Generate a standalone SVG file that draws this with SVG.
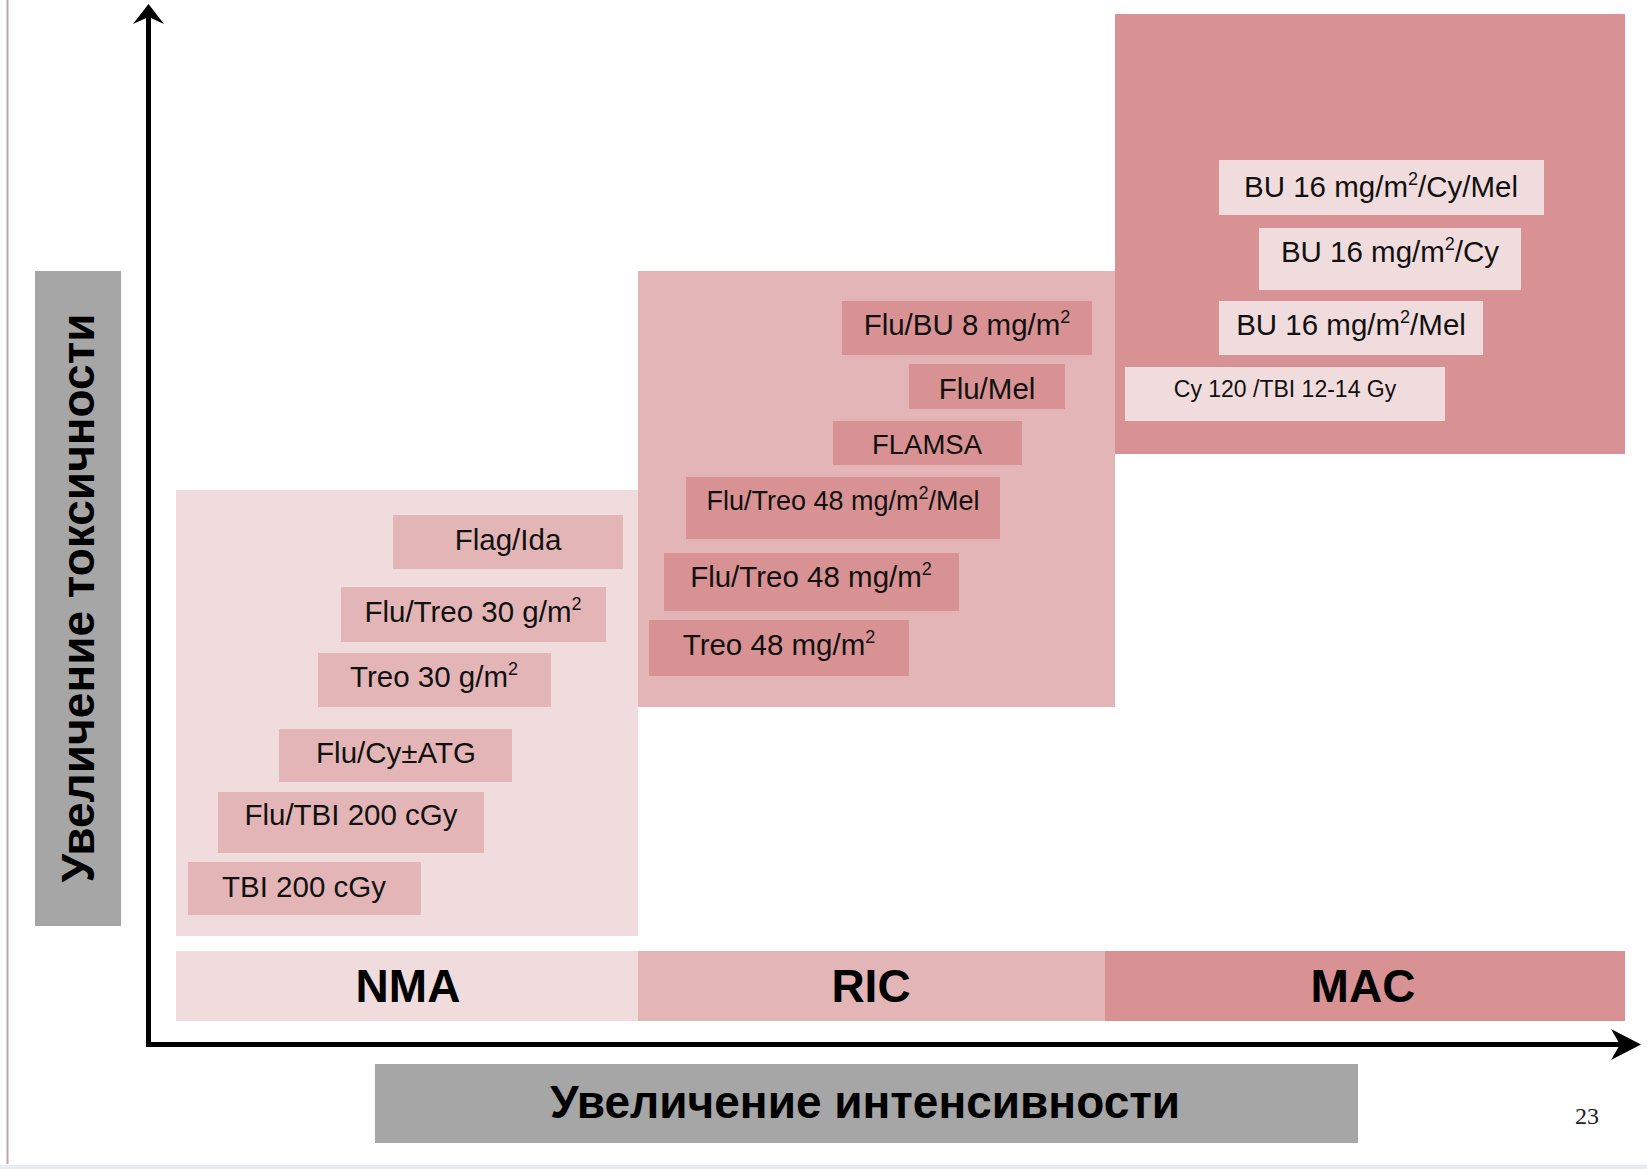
<svg xmlns="http://www.w3.org/2000/svg" width="1647" height="1169" viewBox="0 0 1647 1169">
<style>
.lbl{font-family:"Liberation Sans",Arial,sans-serif;font-size:29.5px;fill:#111;text-anchor:middle}
.sm{font-size:23px}
.s27{font-size:27px}
.s275{font-size:27.5px}
.band{font-family:"Liberation Sans",Arial,sans-serif;font-size:46px;font-weight:bold;fill:#000;text-anchor:middle}
.axis{font-family:"Liberation Sans",Arial,sans-serif;font-size:46px;font-weight:bold;fill:#000;text-anchor:middle}
.light{fill:#f1dcdd}
.mid{fill:#e4b5b6}
.dark{fill:#d99293}
.grey{fill:#a6a6a6}
.sup{font-size:18px}
</style>
<rect x="0" y="0" width="1647" height="1169" fill="#ffffff"/>
<line x1="7.5" y1="0" x2="7.5" y2="1164" stroke="#b3a9ab" stroke-width="2"/>
<rect x="0" y="1165" width="1647" height="4" fill="#e6edf0"/>

<g id="region-nma"><rect class="light" x="176" y="490" width="462" height="446"/></g>
<g id="region-ric"><rect class="mid" x="638" y="271" width="477" height="436"/></g>
<g id="region-mac"><rect class="dark" x="1115" y="14" width="510" height="440"/></g>

<g id="mac-1"><rect class="light" x="1219" y="160" width="325" height="55"/><text class="lbl" x="1381" y="197">BU 16 mg/m<tspan class="sup" dy="-12">2</tspan><tspan dy="12">/Cy/Mel</tspan></text></g>
<g id="mac-2"><rect class="light" x="1259" y="228" width="262" height="62"/><text class="lbl" x="1390" y="262">BU 16 mg/m<tspan class="sup" dy="-12">2</tspan><tspan dy="12">/Cy</tspan></text></g>
<g id="mac-3"><rect class="light" x="1219" y="301" width="264" height="54"/><text class="lbl" x="1351" y="335">BU 16 mg/m<tspan class="sup" dy="-12">2</tspan><tspan dy="12">/Mel</tspan></text></g>
<g id="mac-4"><rect class="light" x="1125" y="367" width="320" height="54"/><text class="lbl sm" x="1285" y="397">Cy 120 /TBI 12-14 Gy</text></g>

<g id="ric-1"><rect class="dark" x="842" y="301" width="250" height="54"/><text class="lbl" x="967" y="335">Flu/BU 8 mg/m<tspan class="sup" dy="-12">2</tspan></text></g>
<g id="ric-2"><rect class="dark" x="909" y="364" width="156" height="45"/><text class="lbl" x="987" y="399">Flu/Mel</text></g>
<g id="ric-3"><rect class="dark" x="833" y="421" width="189" height="44"/><text class="lbl s275" x="927" y="454">FLAMSA</text></g>
<g id="ric-4"><rect class="dark" x="686" y="477" width="314" height="62"/><text class="lbl s27" x="843" y="510">Flu/Treo 48 mg/m<tspan class="sup" dy="-11">2</tspan><tspan dy="11">/Mel</tspan></text></g>
<g id="ric-5"><rect class="dark" x="664" y="553" width="295" height="58"/><text class="lbl" x="811" y="587">Flu/Treo 48 mg/m<tspan class="sup" dy="-12">2</tspan></text></g>
<g id="ric-6"><rect class="dark" x="649" y="620" width="260" height="56"/><text class="lbl" x="779" y="655">Treo 48 mg/m<tspan class="sup" dy="-12">2</tspan></text></g>

<g id="nma-1"><rect class="mid" x="393" y="515" width="230" height="54"/><text class="lbl" x="508" y="550">Flag/Ida</text></g>
<g id="nma-2"><rect class="mid" x="341" y="587" width="265" height="55"/><text class="lbl" x="473" y="622">Flu/Treo 30 g/m<tspan class="sup" dy="-12">2</tspan></text></g>
<g id="nma-3"><rect class="mid" x="318" y="653" width="233" height="54"/><text class="lbl" x="434" y="687">Treo 30 g/m<tspan class="sup" dy="-12">2</tspan></text></g>
<g id="nma-4"><rect class="mid" x="279" y="729" width="233" height="53"/><text class="lbl" x="396" y="763">Flu/Cy±ATG</text></g>
<g id="nma-5"><rect class="mid" x="218" y="792" width="266" height="61"/><text class="lbl" x="351" y="825">Flu/TBI 200 cGy</text></g>
<g id="nma-6"><rect class="mid" x="188" y="862" width="233" height="53"/><text class="lbl" x="304" y="897">TBI 200 cGy</text></g>

<g id="band-nma"><rect class="light" x="176" y="951" width="462" height="70"/><text class="band" x="408" y="1002">NMA</text></g>
<g id="band-ric"><rect class="mid" x="638" y="951" width="467" height="70"/><text class="band" x="871" y="1002">RIC</text></g>
<g id="band-mac"><rect class="dark" x="1105" y="951" width="520" height="70"/><text class="band" x="1363" y="1002">MAC</text></g>

<g id="label-y"><rect class="grey" x="35" y="271" width="86" height="655"/><text class="axis" transform="translate(94,598) rotate(-90)" x="0" y="0">Увеличение токсичности</text></g>
<g id="label-x"><rect class="grey" x="375" y="1064" width="983" height="79"/><text class="axis" x="865" y="1118">Увеличение интенсивности</text></g>

<g id="connectors">
<line x1="148.5" y1="14" x2="148.5" y2="1046.5" stroke="#000" stroke-width="5"/>
<line x1="146" y1="1044.5" x2="1628" y2="1044.5" stroke="#000" stroke-width="5"/>
<path d="M148.5,4 L164,24 L148.5,17 L133,24 Z" fill="#000"/>
<path d="M1641,1044.5 L1611,1029 L1620,1044.5 L1611,1060 Z" fill="#000"/>
</g>

<text x="1587" y="1124" font-family="'Liberation Serif','Times New Roman',serif" font-size="24" fill="#222" text-anchor="middle">23</text>
</svg>
